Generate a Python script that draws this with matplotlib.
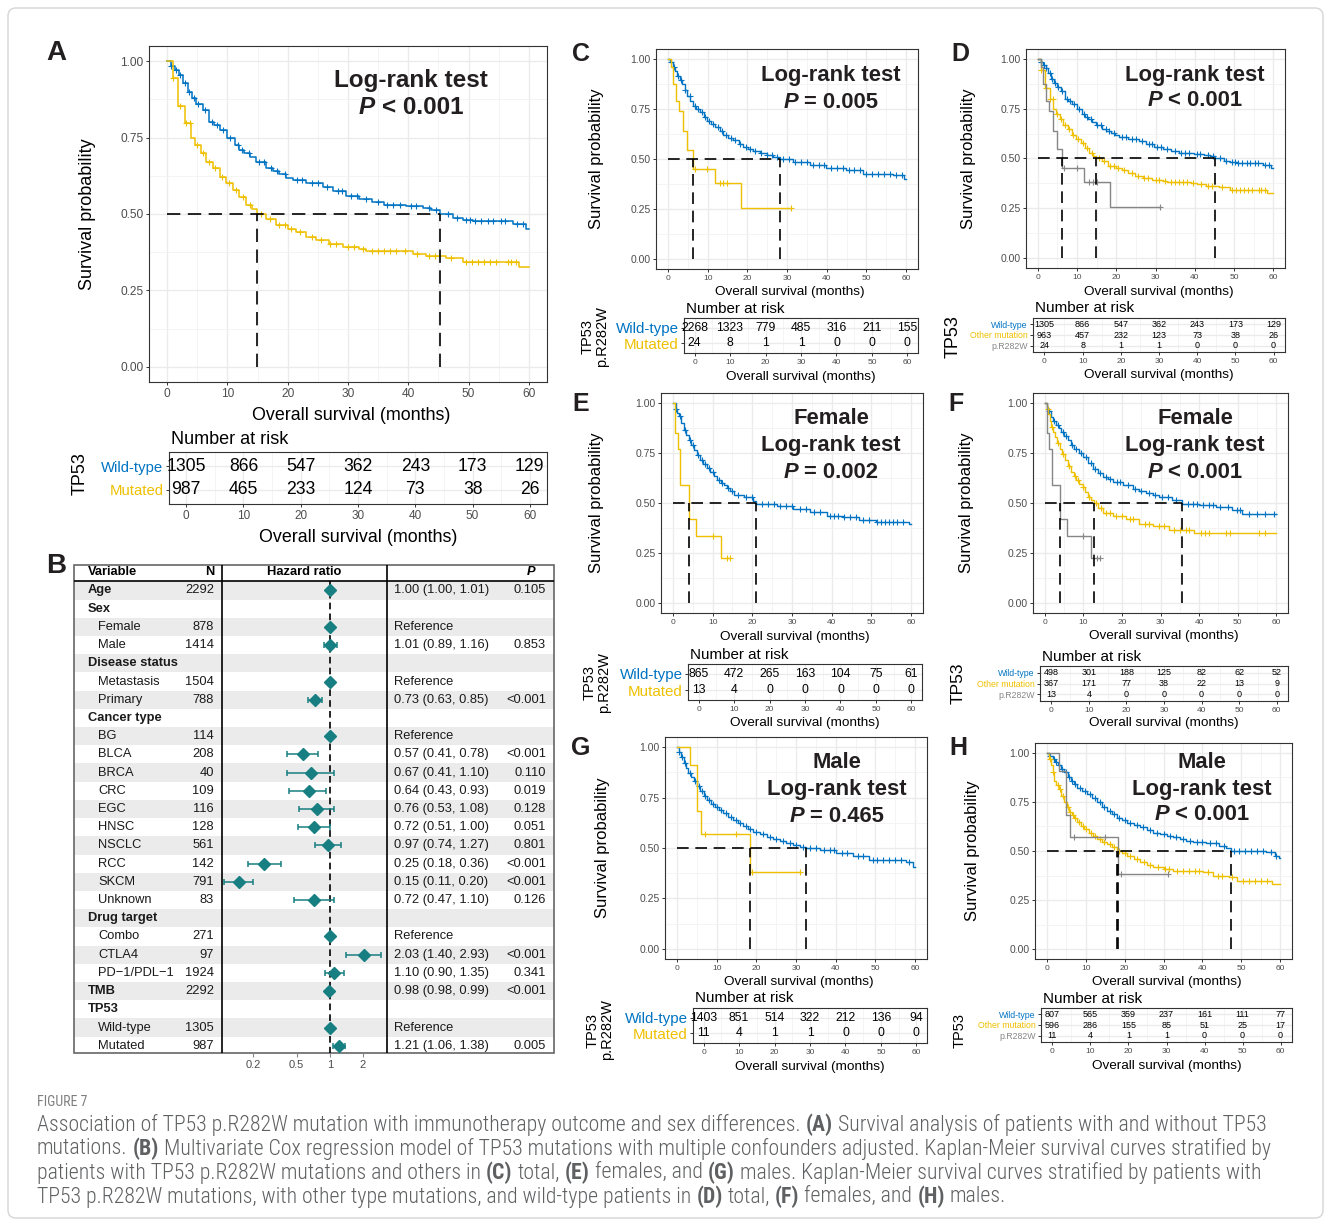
import numpy as np
import matplotlib
matplotlib.use('Agg')
import matplotlib.pyplot as plt
from matplotlib.patches import FancyBboxPatch, Rectangle
from matplotlib.ticker import NullLocator

plt.rcParams['font.family'] = ['Liberation Sans', 'DejaVu Sans']

W, H = 1331, 1227
BLUE, YELLOW, GREY = '#0073C2', '#EFC000', '#868686'
TEAL = '#177F81'

# ---------------- Kaplan-Meier data ----------------
risk_times = [0, 10, 20, 30, 40, 50, 60]

# all patients: TP53 wild-type / mutated (A, D)
A_wt_t = [0, 0.7, 1.3, 2.0, 2.6, 3.4, 4.1, 4.8, 5.9, 7.0, 7.8, 8.7, 10.0, 11.2, 12.0, 12.8, 13.8, 14.8,
          16.4, 17.5, 18.6, 19.7, 20.8, 23.0, 25.8, 27.5, 29.7, 31.9, 34.0, 36.0, 39.7, 42.4, 43.8, 45.2,
          47.4, 49.0, 50.7, 57.4, 59.5]
A_wt_s = [1.0, 0.985, 0.97, 0.955, 0.93, 0.90, 0.88, 0.86, 0.84, 0.80, 0.79, 0.775, 0.75, 0.725, 0.71, 0.70,
          0.685, 0.67, 0.65, 0.64, 0.63, 0.618, 0.61, 0.60, 0.59, 0.575, 0.56, 0.55, 0.54, 0.53, 0.525, 0.52,
          0.512, 0.50, 0.487, 0.48, 0.477, 0.468, 0.452]
A_mut_t = [0, 0.9, 1.8, 3.0, 4.0, 4.7, 5.6, 6.5, 7.6, 8.7, 9.8, 10.9, 12.0, 13.1, 14.0, 14.9, 16.4, 18.0,
           20.0, 21.4, 23.0, 24.7, 26.9, 29.1, 31.9, 33.0, 39.1, 40.7, 42.9, 46.3, 49.0, 58.3]
A_mut_s = [1.0, 0.945, 0.852, 0.797, 0.748, 0.726, 0.70, 0.67, 0.65, 0.62, 0.60, 0.58, 0.555, 0.53, 0.515,
           0.50, 0.485, 0.463, 0.452, 0.44, 0.425, 0.414, 0.403, 0.392, 0.387, 0.38, 0.379, 0.37, 0.361,
           0.357, 0.343, 0.326]
cens_wt_all = [0.7, 1.5, 2.2, 3.0, 3.6, 4.5, 5.2, 6.3, 7.5, 8.2, 9.3, 10.5, 11.8, 12.5, 13.6, 15.2, 16.0,
               17.3, 18.2, 19.5, 21.5, 22.4, 24.0, 25.0, 26.6, 28.3, 29.0, 30.5, 31.5, 33.0, 35.0, 36.5,
               37.5, 38.6, 40.5, 41.3, 43.5, 44.6, 46.5, 48.0, 49.5, 50.2, 51.0, 52.0, 53.2, 54.0, 55.3,
               56.0, 58.0, 59.0]
cens_mut_all = [0.9, 2.2, 3.2, 3.8, 5.0, 6.0, 7.0, 8.0, 9.1, 10.3, 11.5, 12.6, 13.8, 15.5, 17.0, 18.5,
                19.5, 20.5, 22.0, 24.0, 25.5, 27.0, 28.0, 30.0, 31.0, 32.5, 34.0, 35.0, 36.0, 37.0, 38.0,
                39.5, 41.5, 43.5, 44.5, 47.0, 49.5, 50.5, 51.5, 52.5, 53.5, 54.5, 56.5, 57.0, 57.8]

# all patients: non-p.R282W / p.R282W (C, D grey)
C_wt_t = [0, 0.6, 1.2, 1.8, 2.4, 3.0, 3.5, 4.2, 4.8, 5.6, 6.4, 7.2, 8.1, 9.0, 9.8, 10.8, 11.9, 13.0, 14.0,
          15.2, 16.5, 17.8, 19.0, 20.2, 21.5, 23.2, 24.9, 26.5, 28.2, 31.5, 35.7, 39.9, 44.9, 49.1, 53.3,
          56.7, 59.5]
C_wt_s = [1.0, 0.985, 0.96, 0.94, 0.915, 0.895, 0.875, 0.845, 0.817, 0.79, 0.767, 0.75, 0.734, 0.71, 0.69,
          0.675, 0.66, 0.638, 0.618, 0.605, 0.593, 0.575, 0.56, 0.55, 0.54, 0.528, 0.518, 0.508, 0.50,
          0.485, 0.468, 0.457, 0.444, 0.427, 0.424, 0.419, 0.402]
C_mut_t = [0, 0.7, 1.4, 2.1, 2.9, 3.9, 4.9, 6.2, 11.9, 18.3]
C_mut_s = [1.0, 0.958, 0.875, 0.79, 0.74, 0.64, 0.546, 0.45, 0.38, 0.255]
cens_c_wt = [0.8, 1.6, 2.5, 3.3, 4.4, 5.5, 6.8, 7.6, 8.5, 9.4, 10.3, 11.4, 12.5, 13.5, 14.6, 15.8, 16.9,
             18.2, 19.6, 20.8, 22.0, 23.5, 25.0, 26.2, 27.5, 29.0, 30.5, 32.0, 33.5, 35.0, 36.5, 38.0,
             39.4, 41.0, 42.5, 44.0, 45.5, 47.0, 48.5, 50.0, 51.5, 53.0, 54.5, 56.0, 57.5, 59.0]
cens_c_mut = [6.8, 9.9, 13.0, 14.0, 15.0, 31.1]

# females (E, F)
E_wt_t = [0, 0.7, 1.1, 1.5, 2.1, 2.8, 3.4, 4.0, 4.6, 5.3, 6.1, 6.9, 7.7, 8.6, 9.4, 10.3, 11.1, 12.0, 12.8,
          13.6, 14.5, 15.3, 17.8, 20.3, 21.0, 26.1, 30.3, 34.5, 38.7, 42.9, 47.0, 51.2, 59.5]
E_wt_s = [1.0, 0.97, 0.95, 0.933, 0.9, 0.867, 0.84, 0.817, 0.79, 0.767, 0.74, 0.717, 0.695, 0.675, 0.655,
          0.633, 0.615, 0.60, 0.588, 0.575, 0.558, 0.542, 0.53, 0.508, 0.495, 0.483, 0.47, 0.453, 0.437,
          0.43, 0.417, 0.403, 0.397]
E_mut_t = [0, 0.5, 1.25, 1.9, 4.0, 5.9, 12.1]
E_mut_s = [1.0, 0.85, 0.77, 0.59, 0.42, 0.335, 0.225]
cens_e_wt = [0.9, 1.8, 3.0, 4.2, 5.0, 6.4, 7.3, 8.2, 9.0, 10.0, 11.5, 12.4, 13.9, 15.0, 16.5, 18.5, 19.8,
             22.5, 24.0, 25.5, 27.0, 28.5, 30.0, 32.0, 33.5, 35.5, 37.0, 39.5, 40.5, 41.5, 43.0, 44.5,
             46.0, 48.0, 49.5, 51.5, 52.5, 53.5, 54.5, 55.5, 56.5, 58.0]
cens_e_mut = [10.0, 13.5, 14.3]

F_wt_t = [0, 0.6, 1.0, 1.7, 2.3, 3.0, 3.6, 4.3, 5.1, 6.0, 6.8, 7.7, 8.8, 9.9, 11.2, 12.5, 13.7, 15.0, 16.3,
          17.6, 20.2, 22.8, 24.5, 26.2, 28.0, 29.7, 33.1, 35.5, 40.0, 44.3, 48.6, 51.2, 59.5]
F_wt_s = [1.0, 0.98, 0.96, 0.93, 0.91, 0.89, 0.875, 0.855, 0.835, 0.813, 0.79, 0.77, 0.75, 0.73, 0.70,
          0.672, 0.65, 0.63, 0.618, 0.605, 0.588, 0.572, 0.56, 0.55, 0.54, 0.53, 0.517, 0.497, 0.488,
          0.48, 0.467, 0.447, 0.443]
F_mut_t = [0, 0.5, 0.9, 1.3, 1.7, 2.2, 2.6, 3.2, 3.9, 4.5, 5.2, 6.0, 6.9, 7.5, 8.2, 9.0, 9.9, 10.5, 11.2,
           12.0, 12.7, 13.8, 15.1, 17.6, 21.1, 24.5, 28.0, 32.3, 38.7]
F_mut_s = [1.0, 0.97, 0.947, 0.91, 0.88, 0.855, 0.83, 0.80, 0.772, 0.745, 0.713, 0.685, 0.655, 0.635,
           0.613, 0.597, 0.58, 0.555, 0.53, 0.515, 0.50, 0.475, 0.45, 0.433, 0.422, 0.397, 0.383, 0.367, 0.35]
cens_f_wt = [1.2, 2.5, 3.4, 4.8, 5.5, 7.0, 8.0, 9.4, 10.6, 12.0, 13.0, 14.4, 16.0, 17.0, 18.8, 19.5, 21.5,
             23.5, 25.0, 27.0, 28.5, 30.5, 32.0, 34.0, 37.0, 38.5, 39.5, 41.0, 42.5, 43.5, 45.5, 47.5,
             49.8, 50.5, 53.0, 55.0, 57.0, 59.5]
cens_f_mut = [0.8, 2.0, 3.5, 4.8, 6.4, 7.8, 8.6, 10.0, 11.6, 13.2, 14.5, 16.0, 17.0, 18.5, 20.0, 22.0,
              23.0, 26.0, 27.0, 29.5, 31.0, 33.5, 35.0, 36.5, 37.5, 40.5, 41.5, 42.5, 47.0, 48.0, 55.5, 57.0]

# males (G, H)
G_wt_t = [0, 0.6, 1.1, 1.7, 2.3, 2.9, 3.5, 4.2, 5.0, 5.9, 6.7, 7.5, 8.5, 9.6, 10.6, 11.7, 12.9, 14.2, 15.4,
          16.7, 17.9, 19.2, 20.9, 22.6, 24.2, 25.9, 27.6, 29.3, 31.0, 32.6, 36.0, 40.2, 44.4, 48.5, 54.4,
          57.7, 59.5]
G_wt_s = [1.0, 0.975, 0.95, 0.92, 0.895, 0.87, 0.85, 0.83, 0.805, 0.78, 0.76, 0.738, 0.72, 0.705, 0.688,
          0.672, 0.655, 0.638, 0.623, 0.609, 0.595, 0.58, 0.568, 0.556, 0.546, 0.536, 0.525, 0.514, 0.505,
          0.498, 0.489, 0.476, 0.459, 0.443, 0.44, 0.431, 0.406]
G_mut_t = [0, 3.2, 5.0, 6.1, 18.4]
G_mut_s = [1.0, 0.909, 0.683, 0.569, 0.381]
cens_g_wt = [0.6, 1.4, 2.0, 3.2, 4.5, 5.5, 6.2, 7.0, 8.0, 9.0, 10.1, 11.2, 12.3, 13.5, 14.8, 16.0, 17.3,
             18.5, 20.0, 21.7, 23.4, 25.0, 26.8, 28.4, 30.0, 31.8, 33.5, 35.0, 37.0, 38.5, 39.5, 41.5,
             42.8, 45.5, 47.0, 49.5, 50.5, 52.0, 53.5, 55.0, 56.5, 58.5]
cens_g_mut = [7.0, 15.0, 19.0, 31.1]

H_wt_t = [0, 0.6, 1.5, 2.2, 2.8, 3.6, 4.5, 5.4, 6.2, 7.0, 7.9, 9.1, 10.4, 11.7, 13.0, 14.2, 15.5, 16.8,
          18.1, 19.3, 20.6, 22.3, 24.0, 25.7, 27.4, 29.1, 30.8, 32.5, 34.2, 35.8, 37.5, 40.9, 44.3, 46.0,
          47.3, 51.1, 56.2, 58.7, 59.7]
H_wt_s = [1.0, 0.985, 0.966, 0.953, 0.94, 0.92, 0.90, 0.878, 0.856, 0.84, 0.823, 0.806, 0.79, 0.768,
          0.747, 0.725, 0.704, 0.687, 0.67, 0.657, 0.645, 0.632, 0.62, 0.607, 0.594, 0.586, 0.578, 0.569,
          0.56, 0.553, 0.547, 0.539, 0.527, 0.515, 0.50, 0.498, 0.493, 0.476, 0.463]
H_mut_t = [0, 0.6, 1.1, 1.5, 1.9, 2.5, 3.2, 3.8, 4.5, 5.1, 5.8, 6.4, 7.0, 7.8, 8.7, 9.7, 10.8, 11.9, 13.0,
           14.2, 15.5, 16.8, 18.1, 19.3, 20.6, 22.3, 24.0, 25.7, 27.4, 30.0, 32.5, 40.1, 42.6, 46.9, 49.0, 57.9]
H_mut_s = [1.0, 0.97, 0.94, 0.90, 0.856, 0.835, 0.814, 0.78, 0.747, 0.725, 0.70, 0.685, 0.67, 0.65, 0.628,
           0.61, 0.594, 0.577, 0.56, 0.548, 0.535, 0.518, 0.50, 0.488, 0.476, 0.46, 0.443, 0.43, 0.417,
           0.408, 0.40, 0.392, 0.375, 0.367, 0.346, 0.33]
cens_h_wt = [0.8, 1.8, 2.5, 3.2, 4.0, 5.0, 5.8, 6.6, 7.4, 8.5, 9.8, 11.0, 12.3, 13.6, 14.8, 16.2, 17.4,
             18.7, 20.0, 21.5, 23.2, 24.8, 26.5, 28.3, 30.0, 31.7, 33.3, 35.0, 36.7, 38.5, 40.0, 42.0,
             43.5, 45.5, 48.0, 49.5, 51.0, 52.5, 54.0, 55.5, 57.5, 59.0]
cens_h_mut = [0.9, 1.7, 2.8, 3.5, 4.2, 5.4, 6.0, 6.7, 7.4, 8.2, 9.2, 10.2, 11.4, 12.5, 13.6, 14.8, 16.2,
              17.4, 18.7, 20.0, 21.5, 23.2, 25.0, 26.5, 28.5, 30.5, 31.5, 33.5, 35.0, 36.5, 38.0, 39.0,
              41.5, 44.0, 45.0, 47.5, 50.5, 52.0, 53.5, 55.0, 56.5]

# numbers at risk
A_risk_wt = [1305, 866, 547, 362, 243, 173, 129]
A_risk_mut = [987, 465, 233, 124, 73, 38, 26]
C_risk_wt = [2268, 1323, 779, 485, 316, 211, 155]
C_risk_mut = [24, 8, 1, 1, 0, 0, 0]
D_risk_wt = [1305, 866, 547, 362, 243, 173, 129]
D_risk_oth = [963, 457, 232, 123, 73, 38, 26]
D_risk_r282 = [24, 8, 1, 1, 0, 0, 0]
E_risk_wt = [865, 472, 265, 163, 104, 75, 61]
E_risk_mut = [13, 4, 0, 0, 0, 0, 0]
F_risk_wt = [498, 301, 188, 125, 82, 62, 52]
F_risk_oth = [367, 171, 77, 38, 22, 13, 9]
F_risk_r282 = [13, 4, 0, 0, 0, 0, 0]
G_risk_wt = [1403, 851, 514, 322, 212, 136, 94]
G_risk_mut = [11, 4, 1, 1, 0, 0, 0]
H_risk_wt = [807, 565, 359, 237, 161, 111, 77]
H_risk_oth = [596, 286, 155, 85, 51, 25, 17]
H_risk_r282 = [11, 4, 1, 1, 0, 0, 0]

logrank_p = {'A': '< 0.001', 'C': '= 0.005', 'D': '< 0.001', 'E': '= 0.002',
             'F': '< 0.001', 'G': '= 0.465', 'H': '< 0.001'}

# ---------------- Cox model (panel B) ----------------
fp_var = ['Age', 'Sex', 'Female', 'Male', 'Disease status', 'Metastasis', 'Primary', 'Cancer type', 'BG',
          'BLCA', 'BRCA', 'CRC', 'EGC', 'HNSC', 'NSCLC', 'RCC', 'SKCM', 'Unknown', 'Drug target', 'Combo',
          'CTLA4', 'PD\u22121/PDL\u22121', 'TMB', 'TP53', 'Wild-type', 'Mutated']
fp_level = [0, 0, 1, 1, 0, 1, 1, 0, 1, 1, 1, 1, 1, 1, 1, 1, 1, 1, 0, 1, 1, 1, 0, 0, 1, 1]
fp_n = [2292, None, 878, 1414, None, 1504, 788, None, 114, 208, 40, 109, 116, 128, 561, 142, 791, 83,
        None, 271, 97, 1924, 2292, None, 1305, 987]
fp_ref = [False, False, True, False, False, True, False, False, True, False, False, False, False, False,
          False, False, False, False, False, True, False, False, False, False, True, False]
fp_hr = [1.00, np.nan, 1.0, 1.01, np.nan, 1.0, 0.73, np.nan, 1.0, 0.57, 0.67, 0.64, 0.76, 0.72, 0.97,
         0.25, 0.15, 0.72, np.nan, 1.0, 2.03, 1.10, 0.98, np.nan, 1.0, 1.21]
fp_lo = [1.00, np.nan, 1.0, 0.89, np.nan, 1.0, 0.63, np.nan, 1.0, 0.41, 0.41, 0.43, 0.53, 0.51, 0.74,
         0.18, 0.11, 0.47, np.nan, 1.0, 1.40, 0.90, 0.98, np.nan, 1.0, 1.06]
fp_hi = [1.01, np.nan, 1.0, 1.16, np.nan, 1.0, 0.85, np.nan, 1.0, 0.78, 1.10, 0.93, 1.08, 1.00, 1.27,
         0.36, 0.20, 1.10, np.nan, 1.0, 2.93, 1.35, 0.99, np.nan, 1.0, 1.38]
fp_p = ['0.105', '', '', '0.853', '', '', '<0.001', '', '', '<0.001', '0.110', '0.019', '0.128', '0.051',
        '0.801', '<0.001', '<0.001', '0.126', '', '', '<0.001', '0.341', '<0.001', '', '', '0.005']

caption_lines = [
    "Association of TP53 p.R282W mutation with immunotherapy outcome and sex differences. **(A)** Survival analysis of patients with and without TP53",
    "mutations. **(B)** Multivariate Cox regression model of TP53 mutations with multiple confounders adjusted. Kaplan-Meier survival curves stratified by",
    "patients with TP53 p.R282W mutations and others in **(C)** total, **(E)** females, and **(G)** males. Kaplan-Meier survival curves stratified by patients with",
    "TP53 p.R282W mutations, with other type mutations, and wild-type patients in **(D)** total, **(F)** females, and **(H)** males.",
]

# ---------------- figure ----------------
fig = plt.figure(figsize=(W / 100, H / 100), dpi=100)
bg = fig.add_axes([0, 0, 1, 1], zorder=-10)
bg.set_xlim(0, W)
bg.set_ylim(H, 0)
bg.axis('off')
bg.add_patch(FancyBboxPatch((8, 8), W - 16, H - 17, boxstyle='round,pad=0,rounding_size=8',
                            fc='white', ec='#D5D5D5', lw=1))
R = fig.canvas.get_renderer()


def px_axes(x0, y0, x1, y1, **kw):
    return fig.add_axes([x0 / W, 1 - y1 / H, (x1 - x0) / W, (y1 - y0) / H], **kw)


def txt(x, y, s, owner=None, **kw):
    return (owner or bg).text(x, y, s, transform=bg.transData, **kw)


def rich(x, y, parts, fs, owner=None, ha='left', **kw):
    # text pieces with different weights laid out one after another
    def width(s):
        t = txt(0, 0, s, fontsize=fs, **kw)
        w = t.get_window_extent(R).width
        t.remove()
        return w
    space = width('a a') - width('aa')
    pieces = []
    for s, weight, style in parts:
        lead = len(s) - len(s.lstrip(' '))
        trail = len(s) - len(s.rstrip(' '))
        t = txt(x, y, s.strip(), owner, fontsize=fs, fontweight=weight, fontstyle=style, va='center', **kw)
        pieces.append((t, lead * space, t.get_window_extent(R).width, trail * space))
    total = sum(a + b + c for _, a, b, c in pieces)
    cur = x - total / 2 if ha == 'center' else x
    for t, a, b, c in pieces:
        cur += a
        t.set_x(cur)
        cur += b + c


def draw_curve(ax, t, s, t_end, cens, color, ms, lw):
    t = np.asarray(t)
    s = np.asarray(s)
    ax.step(np.append(t, t_end), np.append(s, s[-1]), where='post', color=color, lw=lw, zorder=3)
    c = np.asarray(cens)
    idx = np.searchsorted(t, c, side='right') - 1
    ax.plot(c, s[idx], ls='none', marker='+', color=color, ms=ms, mew=0.8, zorder=3)


def theme(ax, fs_x, fs_y):
    ax.set_xlim(-3, 63)
    ax.set_xticks(risk_times)
    ax.set_xticks([5, 15, 25, 35, 45, 55], minor=True)
    ax.grid(which='major', color='#EBEBEB', lw=1.0)
    ax.grid(which='minor', color='#F2F2F2', lw=0.6)
    ax.set_axisbelow(True)
    ax.tick_params(which='minor', length=0)
    ax.tick_params(which='major', length=2.5, width=0.7, color='#333333', labelcolor='#4D4D4D', pad=1.5)
    ax.tick_params(axis='x', labelsize=fs_x)
    ax.tick_params(axis='y', labelsize=fs_y)
    for sp in ax.spines.values():
        sp.set_color('#333333')
        sp.set_linewidth(0.8)


SIZES = {
    'big': dict(ytick=8.6, xtick=8.6, ylab=13, xlab=12.9, annot=17.5, rtitle=13, num=12.7, rlab=10.7,
                rxtick=8.5, letter=20, ms=5, lw=1.1, dash=(8, 4.5)),
    'two': dict(ytick=7.5, xtick=6, ylab=12, xlab=9.7, annot=15.8, rtitle=10.9, num=8.8, rlab=10.9,
                rxtick=6, letter=18, ms=3.8, lw=1.0, dash=(7, 4)),
    'three': dict(ytick=7.5, xtick=6, ylab=12, xlab=9.7, annot=15.8, rtitle=11, num=6.5, rlab=6.3,
                  rxtick=6, letter=18, ms=3.8, lw=1.0, dash=(7, 4)),
}

panels = [
    dict(letter='A', lpos=(56, 53), box=(149, 46, 547, 382), rbox=(169, 452, 547, 504), size='big',
         curves=[(A_wt_t, A_wt_s, 60, cens_wt_all, BLUE), (A_mut_t, A_mut_s, 60, cens_mut_all, YELLOW)],
         rows=[('Wild-type', BLUE, A_risk_wt), ('Mutated', YELLOW, A_risk_mut)],
         group='TP53', gpos=(80, 474), gfs=13, annot=['Log-rank test'], ax_=411, ay=[80, 108],
         ylab_x=88, xlab_y=415, rt_y=440, rxlab_y=537),
    dict(letter='C', lpos=(581, 54), box=(656, 49, 918, 269), rbox=(684, 318, 918, 353), size='two',
         curves=[(C_wt_t, C_wt_s, 60, cens_c_wt, BLUE), (C_mut_t, C_mut_s, 31.1, cens_c_mut, YELLOW)],
         rows=[('Wild-type', BLUE, C_risk_wt), ('Mutated', YELLOW, C_risk_mut)],
         group='TP53\np.R282W', gpos=(595, 337), gfs=10.5, annot=['Log-rank test'], ax_=831, ay=[75, 102],
         ylab_x=597, xlab_y=292, rt_y=309, rxlab_y=377),
    dict(letter='D', lpos=(960, 54), box=(1026, 49, 1285, 268), rbox=(1033, 318, 1285, 352), size='three',
         curves=[(A_wt_t, A_wt_s, 60, cens_wt_all, BLUE), (A_mut_t, A_mut_s, 60, cens_mut_all, YELLOW),
                 (C_mut_t, C_mut_s, 31.1, cens_c_mut, GREY)],
         rows=[('Wild-type', BLUE, D_risk_wt), ('Other mutation', YELLOW, D_risk_oth),
               ('p.R282W', GREY, D_risk_r282)],
         group='TP53', gpos=(953, 337), gfs=13, annot=['Log-rank test'], ax_=1195, ay=[75, 101],
         ylab_x=968, xlab_y=292, rt_y=308, rxlab_y=375),
    dict(letter='E', lpos=(581, 404), box=(661, 393, 923, 613), rbox=(688, 664, 922, 700), size='two',
         curves=[(E_wt_t, E_wt_s, 60, cens_e_wt, BLUE), (E_mut_t, E_mut_s, 14.3, cens_e_mut, YELLOW)],
         rows=[('Wild-type', BLUE, E_risk_wt), ('Mutated', YELLOW, E_risk_mut)],
         group='TP53\np.R282W', gpos=(597, 683), gfs=10.5, annot=['Female', 'Log-rank test'], ax_=831,
         ay=[418, 445, 472], ylab_x=596, xlab_y=637, rt_y=655, rxlab_y=723),
    dict(letter='F', lpos=(956, 404), box=(1033, 393, 1288, 613), rbox=(1040, 666, 1288, 701), size='three',
         curves=[(F_wt_t, F_wt_s, 60, cens_f_wt, BLUE), (F_mut_t, F_mut_s, 60, cens_f_mut, YELLOW),
                 (E_mut_t, E_mut_s, 14.3, cens_e_mut, GREY)],
         rows=[('Wild-type', BLUE, F_risk_wt), ('Other mutation', YELLOW, F_risk_oth),
               ('p.R282W', GREY, F_risk_r282)],
         group='TP53', gpos=(958, 683), gfs=12.5, annot=['Female', 'Log-rank test'], ax_=1195,
         ay=[418, 445, 472], ylab_x=967, xlab_y=636, rt_y=657, rxlab_y=723),
    dict(letter='G', lpos=(581, 748), box=(665, 737, 927, 959), rbox=(693, 1008, 927, 1043), size='two',
         curves=[(G_wt_t, G_wt_s, 60, cens_g_wt, BLUE), (G_mut_t, G_mut_s, 31.1, cens_g_mut, YELLOW)],
         rows=[('Wild-type', BLUE, G_risk_wt), ('Mutated', YELLOW, G_risk_mut)],
         group='TP53\np.R282W', gpos=(600, 1030), gfs=10.5, annot=['Male', 'Log-rank test'], ax_=837,
         ay=[763, 790, 816], ylab_x=602, xlab_y=982, rt_y=998, rxlab_y=1067),
    dict(letter='H', lpos=(958, 748), box=(1035, 743, 1292, 959), rbox=(1041, 1008, 1292, 1042), size='three',
         curves=[(H_wt_t, H_wt_s, 60, cens_h_wt, BLUE), (H_mut_t, H_mut_s, 60, cens_h_mut, YELLOW),
                 (G_mut_t, G_mut_s, 31.1, cens_g_mut, GREY)],
         rows=[('Wild-type', BLUE, H_risk_wt), ('Other mutation', YELLOW, H_risk_oth),
               ('p.R282W', GREY, H_risk_r282)],
         group='TP53', gpos=(960, 1030), gfs=10.5, annot=['Male', 'Log-rank test'], ax_=1202,
         ay=[762, 789, 815], ylab_x=973, xlab_y=982, rt_y=999, rxlab_y=1066),
]

for p in panels:
    z = SIZES[p['size']]
    x0, y0, x1, y1 = p['box']
    ax = px_axes(x0, y0, x1, y1)
    theme(ax, z['xtick'], z['ytick'])
    ax.set_ylim(-0.05, 1.05)
    ax.set_yticks([0, 0.25, 0.5, 0.75, 1.0])
    ax.set_yticklabels(['0.00', '0.25', '0.50', '0.75', '1.00'])
    ax.set_yticks([0.125, 0.375, 0.625, 0.875], minor=True)

    meds = []
    for t, s, t_end, cens, col in p['curves']:
        draw_curve(ax, t, s, t_end, cens, col, z['ms'], z['lw'])
        s_arr = np.asarray(s)
        if s_arr.min() <= 0.5:
            meds.append(np.asarray(t)[np.argmax(s_arr <= 0.5)])
    dash = dict(color='black', lw=1.2, ls=(0, z['dash']), zorder=4)
    ax.plot([0, max(meds)], [0.5, 0.5], **dash)
    for m in meds:
        ax.plot([m, m], [0, 0.5], **dash)

    # annotation
    for line, y in zip(p['annot'], p['ay']):
        txt(p['ax_'], y, line, ax, fontsize=z['annot'], fontweight='bold', ha='center', va='center',
            color='#231F20')
    rich(p['ax_'], p['ay'][-1], [('P', 'bold', 'italic'), (' ' + logrank_p[p['letter']], 'bold', 'normal')],
         z['annot'], owner=ax, ha='center', color='#231F20')

    txt(p['ylab_x'], (y0 + y1) / 2, 'Survival probability', rotation=90, ha='center', va='center',
        fontsize=z['ylab'])
    txt((x0 + x1) / 2 + 3, p['xlab_y'], 'Overall survival (months)', ha='center', va='center',
        fontsize=z['xlab'])
    txt(p['lpos'][0], p['lpos'][1], p['letter'], ha='center', va='center', fontsize=z['letter'],
        fontweight='bold', color='#231F20')

    # risk table
    rx0, ry0, rx1, ry1 = p['rbox']
    rax = px_axes(rx0, ry0, rx1, ry1)
    theme(rax, z['rxtick'], z['rlab'])
    n = len(p['rows'])
    rax.set_ylim(0.4, n + 0.6)
    rax.set_yticks([n - k for k in range(n)])
    rax.set_yticklabels([r[0] for r in p['rows']])
    for tl, r in zip(rax.get_yticklabels(), p['rows']):
        tl.set_color(r[1])
    for k, (lab, col, counts) in enumerate(p['rows']):
        for xt, c in zip(risk_times, counts):
            rax.text(xt, n - k, str(c), ha='center', va='center', fontsize=z['num'], color='black')
    txt(rx0 + 2, p['rt_y'], 'Number at risk', ha='left', va='center', fontsize=z['rtitle'])
    txt((rx0 + rx1) / 2, p['rxlab_y'], 'Overall survival (months)', ha='center', va='center',
        fontsize=z['xlab'])
    txt(p['gpos'][0], p['gpos'][1], p['group'], rotation=90, ha='center', va='center',
        multialignment='center', fontsize=p['gfs'], linespacing=1.0)

# ---------------- panel B: forest plot ----------------
FS = 9.3
fax = px_axes(74, 565, 554, 1053)
fax.set_xlim(74, 554)
fax.set_ylim(25.4, -1.4)
fax.axis('off')
for i in range(len(fp_var)):
    if i % 2 == 0:
        fax.axhspan(i - 0.5, i + 0.5, color='#EBEBEB', lw=0, zorder=0)
fax.add_patch(Rectangle((74, -1.4), 480, 26.8, fill=False, ec='#666666', lw=1.2, clip_on=False, zorder=5))
fax.plot([74, 554], [-0.5, -0.5], color='black', lw=1.2, zorder=5)
for xv in (222, 387):
    fax.plot([xv, xv], [-1.4, 25.4], color='black', lw=1.2, zorder=5)

fax.text(88, -1, 'Variable', fontsize=FS, fontweight='bold', va='center')
fax.text(214, -1, 'N', fontsize=FS, fontweight='bold', va='center', ha='right')
fax.text(304, -1, 'Hazard ratio', fontsize=FS, fontweight='bold', va='center', ha='center')
fax.text(531, -1, 'P', fontsize=FS, fontweight='bold', fontstyle='italic', va='center', ha='center')
for i, name in enumerate(fp_var):
    lvl = fp_level[i]
    fax.text(88 if lvl == 0 else 98, i, name, fontsize=FS, va='center',
             fontweight='bold' if lvl == 0 else 'normal', color='#1A1A1A')
    if fp_n[i] is not None:
        fax.text(214, i, str(fp_n[i]), fontsize=FS, va='center', ha='right', color='#1A1A1A')
    if fp_ref[i]:
        fax.text(394, i, 'Reference', fontsize=FS, va='center', color='#1A1A1A')
    elif not np.isnan(fp_hr[i]):
        fax.text(394, i, f'{fp_hr[i]:.2f} ({fp_lo[i]:.2f}, {fp_hi[i]:.2f})', fontsize=FS, va='center',
                 color='#1A1A1A')
        fax.text(546, i, fp_p[i], fontsize=FS, va='center', ha='right', color='#1A1A1A')

hax = px_axes(222, 565, 387, 1053)
hax.patch.set_alpha(0)
hax.set_xscale('log')
hax.set_xlim(0.105, 3.3)
hax.set_ylim(25.4, -1.4)
for sp in hax.spines.values():
    sp.set_visible(False)
hax.set_yticks([])
hax.set_xticks([0.2, 0.5, 1, 2])
hax.set_xticklabels(['0.2', '0.5', '1', '2'])
hax.xaxis.set_minor_locator(NullLocator())
hax.tick_params(axis='x', length=3, color='#888888', labelcolor='#4D4D4D', labelsize=8, pad=2)
hax.plot([1, 1], [-0.5, 25.4], color='black', lw=1.2, ls=(0, (4, 2.5)), zorder=2)
hr = np.array(fp_hr)
lo = np.array(fp_lo)
hi = np.array(fp_hi)
yy = np.arange(len(fp_var))
ok = ~np.isnan(hr)
hax.errorbar(hr[ok], yy[ok], xerr=[hr[ok] - lo[ok], hi[ok] - hr[ok]], fmt='D', color=TEAL, ms=6.5,
             elinewidth=1.1, capsize=2, capthick=1.1, zorder=3)
txt(56, 566, 'B', ha='center', va='center', fontsize=20, fontweight='bold', color='#231F20')

# ---------------- caption ----------------
# a condensed face if one is installed, otherwise the plain sans; width is fitted below
CAP_FAMILY = ['Roboto Condensed', 'Liberation Sans Narrow', 'DejaVu Sans Condensed', 'Liberation Sans']
probe = txt(0, 0, caption_lines[0].replace('**', ''), fontsize=10, family=CAP_FAMILY, fontweight='light')
cap_fs = 10 * 1229 / probe.get_window_extent(R).width
probe.remove()
txt(37, 1102, 'FIGURE 7', fontsize=10, color='#7F7F7F', va='center', family=CAP_FAMILY)
for k, line in enumerate(caption_lines):
    bits = line.split('**')
    parts = [(b, 'bold' if j % 2 else 'light', 'normal') for j, b in enumerate(bits) if b]
    rich(37, 1125 + 24 * k, parts, cap_fs, color='#5F6062', family=CAP_FAMILY)

fig.savefig('out.png', dpi=100)
